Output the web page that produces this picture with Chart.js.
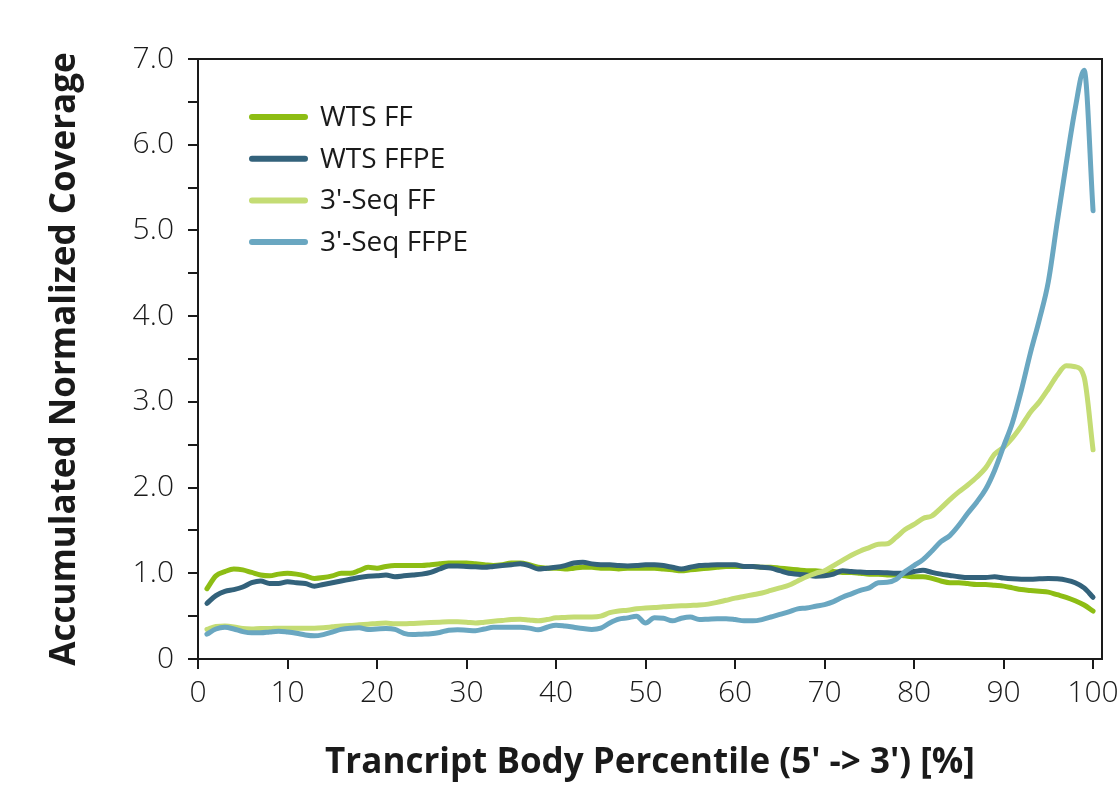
<!DOCTYPE html>
<html>
<head>
<meta charset="utf-8">
<script src="https://cdn.jsdelivr.net/npm/chart.js@4.4.1/dist/chart.umd.min.js"></script>
<style>
  html, body { margin: 0; padding: 0; background: #fff; }
  #wrap { width: 1118px; height: 786px; }
</style>
</head>
<body>
<div id="wrap"><canvas id="chart"></canvas></div>
<script>
// transcript body percentile bins
const percentiles = [1,2,3,4,5,6,7,8,9,10,11,12,13,14,15,16,17,18,19,20,
  21,22,23,24,25,26,27,28,29,30,31,32,33,34,35,36,37,38,39,40,
  41,42,43,44,45,46,47,48,49,50,51,52,53,54,55,56,57,58,59,60,
  61,62,63,64,65,66,67,68,69,70,71,72,73,74,75,76,77,78,79,80,
  81,82,83,84,85,86,87,88,89,90,91,92,93,94,95,96,97,98,99,100];

const wtsFF = [0.82,0.97,1.02,1.05,1.04,1.01,0.98,0.97,0.99,1.00,
  0.99,0.97,0.94,0.95,0.97,1.00,1.00,1.03,1.07,1.06,
  1.08,1.09,1.09,1.09,1.09,1.10,1.11,1.12,1.12,1.12,
  1.11,1.10,1.09,1.10,1.12,1.12,1.10,1.07,1.06,1.06,
  1.05,1.06,1.07,1.07,1.06,1.06,1.05,1.06,1.06,1.06,
  1.06,1.05,1.04,1.03,1.04,1.05,1.06,1.07,1.08,1.08,
  1.08,1.08,1.07,1.07,1.06,1.05,1.04,1.03,1.03,1.02,
  1.02,1.01,1.01,1.00,0.99,0.99,0.98,0.98,0.97,0.96,
  0.96,0.94,0.91,0.89,0.89,0.88,0.87,0.87,0.86,0.85,
  0.83,0.81,0.80,0.79,0.78,0.75,0.72,0.68,0.63,0.56];

const wtsFFPE = [0.65,0.74,0.79,0.81,0.84,0.89,0.91,0.88,0.88,0.90,
  0.89,0.88,0.85,0.87,0.89,0.91,0.93,0.95,0.965,0.97,
  0.98,0.96,0.97,0.98,0.99,1.01,1.05,1.085,1.085,1.08,
  1.075,1.07,1.08,1.09,1.10,1.11,1.09,1.05,1.06,1.07,
  1.09,1.12,1.13,1.11,1.10,1.10,1.09,1.085,1.09,1.10,
  1.10,1.09,1.07,1.05,1.07,1.09,1.095,1.10,1.10,1.10,
  1.08,1.08,1.07,1.06,1.03,1.00,0.99,0.98,0.965,0.97,
  0.99,1.03,1.02,1.015,1.01,1.01,1.005,1.00,1.00,1.02,
  1.035,1.01,0.99,0.975,0.96,0.95,0.95,0.95,0.96,0.945,
  0.935,0.93,0.93,0.935,0.94,0.935,0.92,0.89,0.83,0.72];

const seqFF = [0.345,0.38,0.385,0.375,0.355,0.35,0.355,0.355,0.36,0.36,
  0.36,0.36,0.36,0.365,0.375,0.385,0.39,0.40,0.405,0.415,
  0.42,0.41,0.41,0.415,0.42,0.425,0.43,0.435,0.435,0.43,
  0.42,0.43,0.44,0.45,0.46,0.465,0.455,0.445,0.46,0.48,
  0.485,0.49,0.49,0.49,0.50,0.54,0.56,0.57,0.585,0.595,
  0.60,0.61,0.615,0.62,0.625,0.63,0.64,0.66,0.685,0.71,
  0.73,0.75,0.77,0.80,0.83,0.86,0.91,0.96,1.00,1.03,
  1.09,1.15,1.21,1.26,1.30,1.34,1.345,1.42,1.51,1.57,
  1.64,1.67,1.76,1.86,1.95,2.03,2.12,2.23,2.39,2.47,
  2.58,2.72,2.88,3.00,3.15,3.31,3.42,3.41,3.29,2.44];

const seqFFPE = [0.29,0.35,0.37,0.35,0.32,0.305,0.305,0.315,0.325,0.315,
  0.30,0.28,0.27,0.285,0.315,0.345,0.36,0.365,0.345,0.35,
  0.355,0.345,0.30,0.285,0.29,0.295,0.31,0.335,0.34,0.335,
  0.33,0.35,0.37,0.37,0.37,0.37,0.36,0.34,0.37,0.395,
  0.385,0.37,0.355,0.345,0.36,0.42,0.465,0.48,0.50,0.42,
  0.48,0.475,0.445,0.475,0.49,0.46,0.465,0.47,0.47,0.46,
  0.445,0.445,0.46,0.49,0.52,0.55,0.585,0.595,0.615,0.635,
  0.67,0.72,0.76,0.80,0.83,0.89,0.895,0.93,1.02,1.09,
  1.16,1.26,1.37,1.44,1.56,1.70,1.83,1.98,2.20,2.48,
  2.76,3.14,3.57,3.96,4.40,5.10,5.78,6.42,6.87,5.23];

const seriesNames = ['WTS FF', 'WTS FFPE', "3'-Seq FF", "3'-Seq FFPE"];
const seriesColors = ['#8dbd14', '#33627b', '#c4dc74', '#6aa7c1'];
const seriesValues = [wtsFF, wtsFFPE, seqFF, seqFFPE];

const xTitle = "Trancript Body Percentile (5' -> 3') [%]";
const yTitle = 'Accumulated Normalized Coverage';

const FONT = '"Open Sans", "Noto Sans", sans-serif';
const INK = '#1a1a1a';

// top/right frame plus the legend inside the plot
const frameLegend = {
    id: 'frameLegend',
    afterDraw: function (chart) {
        const ctx = chart.ctx;
        const a = chart.chartArea;
        ctx.save();
        ctx.strokeStyle = INK;
        ctx.lineWidth = 2;
        ctx.beginPath();
        ctx.moveTo(a.left, a.top);
        ctx.lineTo(a.right, a.top);
        ctx.lineTo(a.right, a.bottom);
        ctx.stroke();

        ctx.font = '28px ' + FONT;
        ctx.textBaseline = 'middle';
        ctx.fillStyle = INK;
        ctx.lineCap = 'round';
        ctx.lineWidth = 6;
        seriesNames.forEach((name, i) => {
            const y = a.top + 58 + i * 41.7;
            ctx.strokeStyle = seriesColors[i];
            ctx.beginPath();
            ctx.moveTo(a.left + 54, y);
            ctx.lineTo(a.left + 107, y);
            ctx.stroke();
            ctx.fillText(name, a.left + 122, y + 1);
        });
        ctx.restore();
    }
};

const datasets = seriesNames.map((name, i) => ({
    label: name,
    data: percentiles.map((p, k) => ({ x: p, y: seriesValues[i][k] })),
    borderColor: seriesColors[i],
    backgroundColor: seriesColors[i],
    borderWidth: 5,
    pointRadius: 0,
    fill: false,
    cubicInterpolationMode: 'monotone',
    borderCapStyle: 'round',
    borderJoinStyle: 'round',
    order: seriesNames.length - i
}));

new Chart(document.getElementById('chart'), {
    type: 'line',
    data: { datasets: datasets },
    plugins: [frameLegend],
    options: {
        responsive: true,
        maintainAspectRatio: false,
        animation: false,
        layout: { padding: { top: 59, right: 16, left: 0, bottom: 0 } },
        plugins: { legend: { display: false }, tooltip: { enabled: false } },
        scales: {
            x: {
                type: 'linear',
                min: 0,
                max: 101,
                ticks: {
                    stepSize: 10,
                    includeBounds: false,
                    autoSkip: false,
                    maxRotation: 0,
                    color: INK,
                    padding: 6,
                    font: { family: FONT, size: 30, weight: 300 }
                },
                grid: { drawOnChartArea: false, drawTicks: true, tickLength: 10, color: INK, lineWidth: 2 },
                border: { display: true, color: INK, width: 2 },
                title: {
                    display: true,
                    text: xTitle,
                    color: INK,
                    padding: { top: 0, bottom: 2 },
                    font: { family: FONT, size: 35, weight: 700 }
                },
                afterFit: function (scale) {
                    scale.height = 127;
                    scale.paddingLeft = 0;
                    scale.paddingRight = 0;
                }
            },
            y: {
                min: 0,
                max: 7,
                ticks: {
                    stepSize: 0.5,
                    autoSkip: false,
                    color: INK,
                    padding: 14,
                    font: { family: FONT, size: 30, weight: 300 },
                    callback: function (v) {
                        if (v === 0) return '0';
                        return Number.isInteger(v) ? v.toFixed(1) : '';
                    }
                },
                grid: { drawOnChartArea: false, drawTicks: true, tickLength: 10, color: INK, lineWidth: 2 },
                border: { display: true, color: INK, width: 2 },
                title: {
                    display: true,
                    text: yTitle,
                    color: INK,
                    padding: { top: 44, bottom: 0 },
                    font: { family: FONT, size: 35, weight: 700 }
                },
                afterFit: function (scale) {
                    scale.width = 198;
                    scale.paddingTop = 0;
                    scale.paddingBottom = 0;
                }
            }
        }
    }
});
</script>
</body>
</html>
